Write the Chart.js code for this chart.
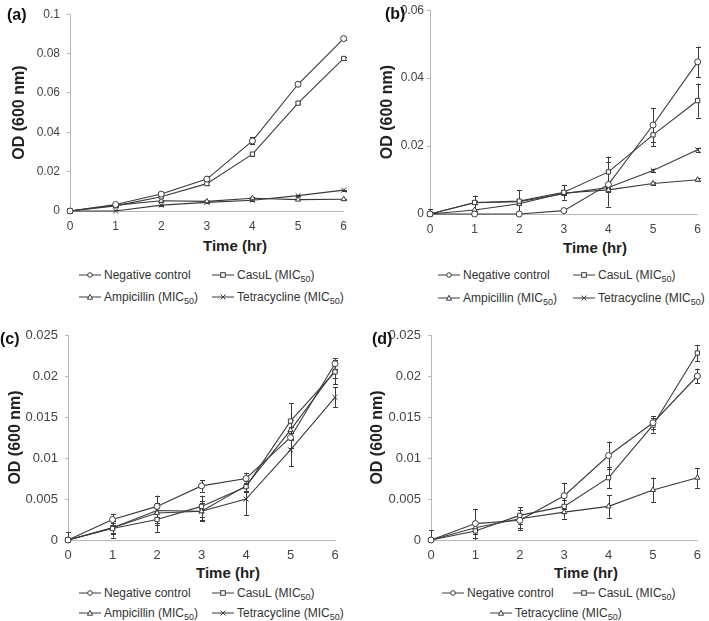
<!DOCTYPE html>
<html><head><meta charset="utf-8">
<script src="https://cdn.jsdelivr.net/npm/chart.js@4.4.0/dist/chart.umd.min.js"></script>
<style>
body{margin:0;background:#fff;width:709px;height:621px;position:relative;overflow:hidden;font-family:"Liberation Sans",Arial,sans-serif;}
canvas{position:absolute;}
.plbl{position:absolute;font-weight:bold;font-size:16px;color:#111;line-height:1;transform:translateY(-50%);}
.xt{position:absolute;font-weight:bold;font-size:15px;color:#222;transform:translate(-50%,-50%);white-space:nowrap;}
.leg{position:absolute;font-size:12px;color:#333;white-space:nowrap;display:flex;align-items:center;transform:translateY(-50%);line-height:1;}
.leg svg{margin-right:3px;}
sub{font-size:9px;vertical-align:-3px;line-height:0;}
</style></head><body>
<canvas id="ca" width="355" height="235" style="left:0;top:0"></canvas>
<canvas id="cb" width="354" height="235" style="left:355px;top:0"></canvas>
<canvas id="cc" width="355" height="250" style="left:0;top:310px"></canvas>
<canvas id="cd" width="354" height="250" style="left:355px;top:310px"></canvas>
<div id="overlay"></div>
<script>
// ---- data ----
const timeHours = [0, 1, 2, 3, 4, 5, 6];

const aNegative        = [0, 0.0033, 0.0086, 0.0162, 0.0356, 0.0644, 0.0876];
const aNegativeErr     = [0, 0.0006, 0.0008, 0.0015, 0.0018, 0.0008, 0.0008];
const aCasuL           = [0, 0.0026, 0.0072, 0.0139, 0.0289, 0.0548, 0.0775];
const aCasuLErr        = [0, 0.0005, 0.0006, 0.0008, 0.0008, 0.0006, 0.0006];
const aAmpicillin      = [0, 0.0030, 0.0052, 0.0049, 0.0065, 0.0058, 0.0060];
const aAmpicillinErr   = [0, 0.0004, 0.0004, 0.0004, 0.0004, 0.0004, 0.0003];
const aTetracycline    = [0, 0.0000, 0.0030, 0.0044, 0.0055, 0.0078, 0.0106];
const aTetracyclineErr = [0, 0.0003, 0.0003, 0.0003, 0.0004, 0.0004, 0.0003];

const bNegative        = [0, 0, 0, 0.0010, 0.0087, 0.0262, 0.0448];
const bNegativeErr     = [0.0015, 0, 0, 0.0005, 0.0065, 0.0050, 0.0045];
const bCasuL           = [0, 0.0034, 0.0038, 0.0064, 0.0124, 0.0233, 0.0334];
const bCasuLErr        = [0, 0.0020, 0.0033, 0.0022, 0.0045, 0.0033, 0.0050];
const bAmpicillin      = [0, 0.0012, 0.0030, 0.0062, 0.0071, 0.0090, 0.0101];
const bAmpicillinErr   = [0, 0.0003, 0.0003, 0.0004, 0.0005, 0.0005, 0.0004];
const bTetracycline    = [0, 0.0033, 0.0036, 0.0060, 0.0078, 0.0128, 0.0189];
const bTetracyclineErr = [0, 0.0004, 0.0004, 0.0005, 0.0005, 0.0005, 0.0005];

const cNegative        = [0, 0.0025, 0.0041, 0.0066, 0.0075, 0.0125, 0.0215];
const cNegativeErr     = [0.0010, 0.0007, 0.0013, 0.0007, 0.0007, 0.0013, 0.0007];
const cCasuL           = [0, 0.0014, 0.0025, 0.0041, 0.0065, 0.0145, 0.0205];
const cCasuLErr        = [0, 0.0011, 0.0015, 0.0013, 0.0007, 0.0022, 0.0015];
const cAmpicillin      = [0, 0.0015, 0.0033, 0.0035, 0.0066, 0.0134, 0.0207];
const cAmpicillinErr   = [0, 0.0008, 0.0012, 0.0010, 0.0006, 0.0012, 0.0010];
const cTetracycline    = [0, 0.0015, 0.0036, 0.0035, 0.0050, 0.0110, 0.0174];
const cTetracyclineErr = [0, 0.0006, 0.0018, 0.0012, 0.0020, 0.0020, 0.0012];

const dNegative        = [0, 0.0020, 0.0024, 0.0054, 0.0103, 0.0143, 0.0200];
const dNegativeErr     = [0.0012, 0.0018, 0.0012, 0.0016, 0.0017, 0.0008, 0.0009];
const dCasuL           = [0, 0.0011, 0.0030, 0.0041, 0.0076, 0.0140, 0.0228];
const dCasuLErr        = [0, 0.0012, 0.0010, 0.0008, 0.0013, 0.0009, 0.0010];
const dTetracycline    = [0, 0.0015, 0.0026, 0.0034, 0.0041, 0.0061, 0.0076];
const dTetracyclineErr = [0, 0.0008, 0.0011, 0.0008, 0.0014, 0.0015, 0.0012];

const yRangeA = [0, 0.1, 0.02];
const yRangeB = [0, 0.06, 0.02];
const yRangeCD = [0, 0.025, 0.005];

// ---- drawing ----
const INK = '#3a3a3a';
const AXIS = '#b8b8b8';

const errorBars = {
  id: 'errorBars',
  beforeDatasetsDraw(chart) {
    const { ctx, scales: { x, y } } = chart;
    ctx.save();
    ctx.strokeStyle = INK;
    ctx.lineWidth = 1;
    chart.data.datasets.forEach(ds => {
      if (!ds.errors) return;
      ds.data.forEach((p, j) => {
        const e = ds.errors[j];
        if (!e) return;
        const px = Math.round(x.getPixelForValue(p.x)) + 0.5;
        const yTop = y.getPixelForValue(p.y + e);
        const yBot = y.getPixelForValue(Math.max(p.y - e, y.min));
        ctx.beginPath();
        ctx.moveTo(px, yTop); ctx.lineTo(px, yBot);
        ctx.moveTo(px - 2.5, Math.round(yTop) + 0.5); ctx.lineTo(px + 2.5, Math.round(yTop) + 0.5);
        if (p.y - e >= y.min) { ctx.moveTo(px - 2.5, Math.round(yBot) + 0.5); ctx.lineTo(px + 2.5, Math.round(yBot) + 0.5); }
        ctx.stroke();
      });
    });
    ctx.restore();
  }
};

function series(label, vals, errs, style) {
  return {
    label,
    data: timeHours.map((t, i) => ({ x: t, y: vals[i] })),
    errors: errs,
    borderColor: INK,
    borderWidth: 1.1,
    backgroundColor: '#fff',
    pointStyle: style,
    pointRadius: style === 'crossRot' ? 3.5 : 3,
    pointBorderWidth: 1,
    pointBorderColor: INK,
    pointBackgroundColor: '#fff',
    tension: 0,
    clip: false
  };
}

function makePanel(id, sets, range, opt) {
  new Chart(document.getElementById(id), {
    type: 'line',
    data: { datasets: sets },
    plugins: [errorBars],
    options: {
      responsive: false,
      animation: false,
      events: [],
      layout: { padding: { top: opt.top, right: opt.right, left: 0, bottom: 0 } },
      plugins: { legend: { display: false }, tooltip: { enabled: false } },
      scales: {
        x: {
          type: 'linear', min: 0, max: 6,
          grid: { display: false, drawTicks: false },
          border: { display: true, color: AXIS, width: 1 },
          ticks: { stepSize: 1, padding: 8, color: '#444', font: { family: 'Liberation Sans', size: opt.tick } },
          afterFit: s => { s.height = opt.xh; }
        },
        y: {
          min: range[0], max: range[1],
          grid: { display: true, drawOnChartArea: false, drawTicks: true, tickLength: 3, color: AXIS },
          border: { display: true, color: AXIS, width: 1 },
          ticks: { stepSize: range[2], padding: opt.tpad, color: '#444', font: { family: 'Liberation Sans', size: opt.tick },
                   callback: v => String(+v.toFixed(4)) },
          title: { display: true, text: 'OD (600 nm)', color: '#222', padding: { top: opt.tp, bottom: 0 },
                   font: { family: 'Liberation Sans', size: 16, weight: 'bold' } },
          afterFit: s => { s.width = opt.yw; }
        }
      }
    }
  });
}

makePanel('ca', [
  series('Negative control', aNegative, aNegativeErr, 'circle'),
  series('CasuL (MIC50)', aCasuL, aCasuLErr, 'rect'),
  series('Ampicillin (MIC50)', aAmpicillin, aAmpicillinErr, 'triangle'),
  series('Tetracycline (MIC50)', aTetracycline, aTetracyclineErr, 'crossRot')
], yRangeA, { top: 7, right: 10, xh: 24, yw: 70, tp: 10, tick: 12, tpad: 7 });

makePanel('cb', [
  series('Negative control', bNegative, bNegativeErr, 'circle'),
  series('CasuL (MIC50)', bCasuL, bCasuLErr, 'rect'),
  series('Ampicillin (MIC50)', bAmpicillin, bAmpicillinErr, 'triangle'),
  series('Tetracycline (MIC50)', bTetracycline, bTetracyclineErr, 'crossRot')
], yRangeB, { top: 7, right: 6, xh: 21, yw: 75, tp: 23, tick: 12, tpad: 3 });

makePanel('cc', [
  series('Negative control', cNegative, cNegativeErr, 'circle'),
  series('CasuL (MIC50)', cCasuL, cCasuLErr, 'rect'),
  series('Ampicillin (MIC50)', cAmpicillin, cAmpicillinErr, 'triangle'),
  series('Tetracycline (MIC50)', cTetracycline, cTetracyclineErr, 'crossRot')
], yRangeCD, { top: 25, right: 20, xh: 20, yw: 68, tp: 6, tick: 13, tpad: 7 });

makePanel('cd', [
  series('Negative control', dNegative, dNegativeErr, 'circle'),
  series('CasuL (MIC50)', dCasuL, dCasuLErr, 'rect'),
  series('Tetracycline (MIC50)', dTetracycline, dTetracyclineErr, 'triangle')
], yRangeCD, { top: 25, right: 11, xh: 20, yw: 76, tp: 13, tick: 13, tpad: 7 });

// ---- text overlays: panel labels, x titles, legends ----
const ov = document.getElementById('overlay');
function add(html, cls, x, y) {
  const d = document.createElement('div');
  d.className = cls; d.innerHTML = html;
  d.style.left = x + 'px'; d.style.top = y + 'px';
  ov.appendChild(d);
}
function glyph(kind) {
  let m = '';
  if (kind === 'circle') m = '<circle cx="11" cy="4" r="2.3" fill="#fff" stroke="#3a3a3a"/>';
  if (kind === 'rect') m = '<rect x="8.7" y="1.7" width="4.6" height="4.6" fill="#fff" stroke="#3a3a3a"/>';
  if (kind === 'triangle') m = '<path d="M11 1.3 L13.6 6.2 L8.4 6.2 Z" fill="#fff" stroke="#3a3a3a"/>';
  if (kind === 'crossRot') m = '<path d="M8.6 1.6 L13.4 6.4 M13.4 1.6 L8.6 6.4" stroke="#3a3a3a"/>';
  return '<svg width="22" height="8"><line x1="0" y1="4" x2="22" y2="4" stroke="#3a3a3a" stroke-width="1"/>' + m + '</svg>';
}
const MIC = 'MIC<sub>50</sub>';
function legendItem(kind, text, x, y) { add(glyph(kind) + '<span>' + text + '</span>', 'leg', x, y); }

add('(a)', 'plbl', 7, 15);
add('(b)', 'plbl', 385, 14);
add('(c)', 'plbl', 0, 339);
add('(d)', 'plbl', 372, 339);

add('Time (hr)', 'xt', 235, 245);
add('Time (hr)', 'xt', 595, 247);
add('Time (hr)', 'xt', 228, 572);
add('Time (hr)', 'xt', 586, 572);

legendItem('circle', 'Negative control', 79, 275);
legendItem('rect', 'CasuL (' + MIC + ')', 212, 275);
legendItem('triangle', 'Ampicillin (' + MIC + ')', 79, 297);
legendItem('crossRot', 'Tetracycline (' + MIC + ')', 212, 297);

legendItem('circle', 'Negative control', 438, 275);
legendItem('rect', 'CasuL (' + MIC + ')', 573, 275);
legendItem('triangle', 'Ampicillin (' + MIC + ')', 438, 298);
legendItem('crossRot', 'Tetracycline (' + MIC + ')', 573, 298);

legendItem('circle', 'Negative control', 79, 593);
legendItem('rect', 'CasuL (' + MIC + ')', 212, 593);
legendItem('triangle', 'Ampicillin (' + MIC + ')', 79, 613);
legendItem('crossRot', 'Tetracycline (' + MIC + ')', 212, 613);

legendItem('circle', 'Negative control', 442, 593);
legendItem('rect', 'CasuL (' + MIC + ')', 573, 593);
legendItem('triangle', 'Tetracycline (' + MIC + ')', 490, 613);
</script>
</body></html>
